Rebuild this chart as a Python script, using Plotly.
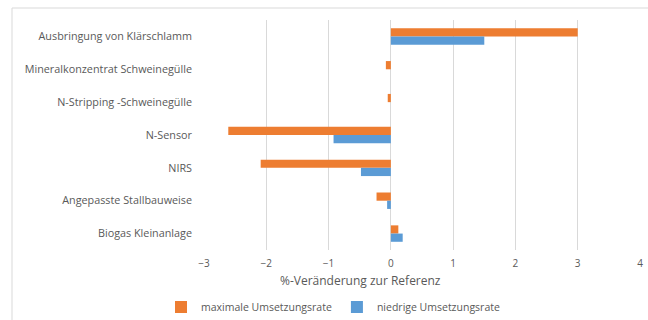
import plotly.graph_objects as go

categories = [
    "Ausbringung von Klärschlamm",
    "Mineralkonzentrat Schweinegülle",
    "N-Stripping -Schweinegülle",
    "N-Sensor",
    "NIRS",
    "Angepasste Stallbauweise",
    "Biogas Kleinanlage",
]
maximale = [3.0, -0.08, -0.05, -2.61, -2.09, -0.23, 0.12]
niedrige = [1.5, 0.0, 0.0, -0.92, -0.48, -0.06, 0.19]
x_ticks = [-3, -2, -1, 0, 1, 2, 3, 4]

FONT = "Open Sans"
GREY = "#595959"

fig = go.Figure()
fig.add_trace(go.Bar(y=categories, x=maximale, orientation="h",
                     name="maximale Umsetzungsrate",
                     marker=dict(color="#ED7D31", line=dict(width=0))))
fig.add_trace(go.Bar(y=categories, x=niedrige, orientation="h",
                     name="niedrige Umsetzungsrate",
                     marker=dict(color="#5B9BD5", line=dict(width=0))))

fig.update_layout(
    width=648, height=320,
    margin=dict(l=204, r=8, t=20, b=70, autoexpand=False),
    paper_bgcolor="white", plot_bgcolor="white",
    barmode="group", bargap=0.5, bargroupgap=0,
    font=dict(family=FONT, size=10, color=GREY),
    xaxis=dict(range=[-3, 4], tickvals=x_ticks, showgrid=True,
               gridcolor="#D9D9D9", gridwidth=1, zeroline=True,
               zerolinecolor="#D9D9D9", zerolinewidth=1, automargin=False,
               showline=False, ticks="", ticklabelstandoff=6,
               tickfont=dict(size=10, color=GREY)),
    yaxis=dict(autorange="reversed", showgrid=False, showline=False,
               ticks="", ticklabelstandoff=11, automargin=False,
               tickfont=dict(size=10.8, color=GREY)),
    legend=dict(orientation="h", x=(333 - 204) / 436, xanchor="center",
                y=(250 - 307) / 230, yanchor="middle",
                font=dict(size=10.5, color=GREY),
                itemwidth=30, traceorder="normal"),
    showlegend=True,
    annotations=[dict(text="%-Veränderung zur Referenz", xref="paper",
                      yref="paper", x=(360 - 204) / 436, y=(250 - 280) / 230,
                      showarrow=False, xanchor="center", yanchor="middle",
                      font=dict(size=12, color=GREY))],
    shapes=[dict(type="rect", xref="paper", yref="paper",
                 x0=(12 - 204) / 436, x1=(700 - 204) / 436,
                 y0=(250 - 400) / 230, y1=(250 - 8) / 230,
                 line=dict(color="#D9D9D9", width=1), layer="below")],
)

fig.write_html("out.html")
